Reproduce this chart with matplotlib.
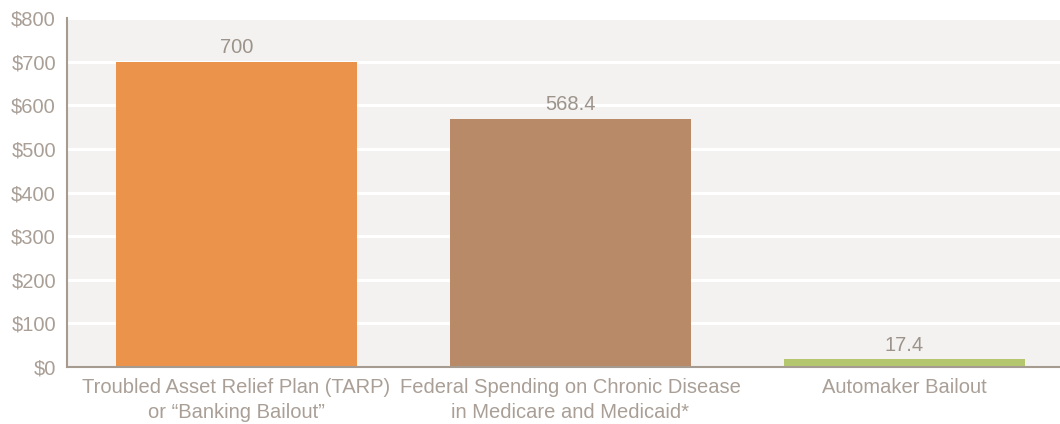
import matplotlib

matplotlib.use("Agg")
import matplotlib.pyplot as plt

categories = [
    "Troubled Asset Relief Plan (TARP)\nor \u201cBanking Bailout\u201d",
    "Federal Spending on Chronic Disease\nin Medicare and Medicaid*",
    "Automaker Bailout",
]
values = [700, 568.4, 17.4]
value_labels = ["700", "568.4", "17.4"]
bar_colors = ["#EB924B", "#B88A67", "#B4C76E"]
y_ticks = [0, 100, 200, 300, 400, 500, 600, 700, 800]

text_color = "#A99F96"
plt.rcParams["font.family"] = ["Liberation Sans", "DejaVu Sans"]

fig = plt.figure(figsize=(10.6, 4.24), dpi=100)
ax = fig.add_axes([0.0632, 0.1344, 0.9368, 0.8231])
ax.set_facecolor("#F3F2F0")

x = list(range(len(categories)))
ax.bar(x, values, width=0.72, color=bar_colors, zorder=3)
for xi, v, lab in zip(x, values, value_labels):
    ax.text(xi, v + 11, lab, ha="center", va="bottom", fontsize=14.5,
            color="#9C938B", zorder=4)

ax.set_xlim(-0.5075, 2.4656)
ax.set_ylim(0, 800)
ax.set_yticks(y_ticks)
ax.set_yticklabels([f"${t}" for t in y_ticks])
ax.set_xticks(x)
ax.set_xticklabels(categories, linespacing=1.4)
ax.tick_params(axis="both", length=0, labelsize=14.5, labelcolor=text_color)
ax.tick_params(axis="y", pad=8)
ax.tick_params(axis="x", pad=8)

ax.yaxis.grid(True, color="white", linewidth=2.2, zorder=1)
ax.set_axisbelow(True)
for side in ["top", "right"]:
    ax.spines[side].set_visible(False)
for side in ["left", "bottom"]:
    ax.spines[side].set_color("#A59B91")
    ax.spines[side].set_linewidth(1.5)
    ax.spines[side].set_zorder(5)

fig.savefig("out.png", dpi=100)
